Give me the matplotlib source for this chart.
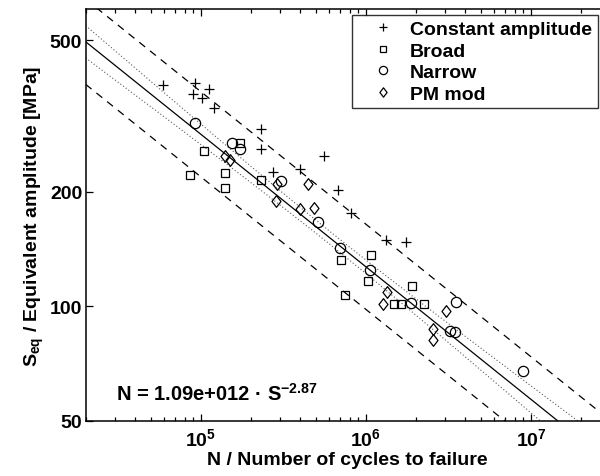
import numpy as np
import matplotlib
matplotlib.use('Agg')
import matplotlib.pyplot as plt
from matplotlib.path import Path
from matplotlib.ticker import FixedLocator, FixedFormatter, NullLocator, LogLocator

plt.rcParams['font.family'] = ['Liberation Sans', 'DejaVu Sans']
plt.rcParams['font.weight'] = 'bold'
plt.rcParams['axes.labelweight'] = 'bold'
plt.rcParams['mathtext.default'] = 'regular'

# ---------------- data (cycles to failure, equivalent amplitude MPa) ----------------
ca_N = [5.89e4, 9.23e4, 1.116e5, 8.98e4, 1.018e5, 1.205e5, 2.32e5, 2.313e5, 2.73e5,
        3.97e5, 5.58e5, 6.81e5, 8.12e5, 1.316e6, 1.743e6]
ca_S = [383, 385.5, 372.9, 362.2, 353.1, 331.4, 292.7, 259.3, 225.3,
        229.0, 247.7, 201.6, 176.1, 149.4, 147.7]

broad_N = [1.728e5, 1.037e5, 8.61e4, 1.40e5, 1.406e5, 2.303e5, 7.10e5, 1.077e6, 1.030e6,
           1.90e6, 7.46e5, 1.469e6, 1.629e6, 2.252e6]
broad_S = [268.0, 256.4, 220.8, 224.4, 204.1, 215.2, 132.1, 136.6, 116.7,
           113.2, 107.2, 101.3, 101.4, 101.4]

narrow_N = [9.17e4, 1.551e5, 1.735e5, 3.07e5, 5.10e5, 6.98e5, 1.062e6, 1.877e6,
            3.51e6, 3.25e6, 3.47e6, 8.89e6]
narrow_S = [303.5, 268.0, 258.5, 214.1, 166.8, 142.3, 124.4, 101.7,
            102.5, 86.3, 85.4, 67.5]

pm_N = [1.406e5, 1.494e5, 2.875e5, 2.835e5, 4.46e5, 3.97e5, 4.84e5, 1.339e6,
        1.276e6, 3.045e6, 2.544e6, 2.544e6]
pm_S = [248.5, 241.8, 210.1, 189.7, 210.1, 180.4, 181.3, 109.3,
        101.5, 96.9, 87.2, 81.4]

series_labels = ['Constant amplitude', 'Broad', 'Narrow', 'PM mod']

# fitted curve N = A * S^-m and bands (half-widths in log10 S)
fit_A = 1.09e12
fit_m = 2.87
pred_half = 0.112
conf_c0 = 0.017
conf_c1 = 0.026
conf_center = 5.8

x_range = (2e4, 3e7)
y_range = (50, 605)
y_ticks = [50, 100, 200, 500]
y_ticklabels = ['50', '100', '200', '500']

# ---------------- figure ----------------
fig = plt.figure(figsize=(6.0, 4.77), dpi=100)
ax = fig.add_axes([0.1428, 0.1159, 0.8733, 0.8631])
ax.set_xscale('log')
ax.set_yscale('log')

logN = np.linspace(np.log10(x_range[0]), np.log10(x_range[1]), 300)
logS = (np.log10(fit_A) - logN) / fit_m
Ngrid = 10 ** logN
conf = np.sqrt(conf_c0 ** 2 + (conf_c1 * (logN - conf_center)) ** 2)

ax.plot(Ngrid, 10 ** logS, color='black', lw=0.9)
for sgn in (1, -1):
    ax.plot(Ngrid, 10 ** (logS + sgn * pred_half), color='black', lw=0.9, dashes=(6, 5))
    ax.plot(Ngrid, 10 ** (logS + sgn * conf), color='0.35', lw=0.8, linestyle=(0, (1, 2)))

diamond = Path([(0, 1), (0.77, 0), (0, -1), (-0.77, 0), (0, 1)],
               [Path.MOVETO, Path.LINETO, Path.LINETO, Path.LINETO, Path.CLOSEPOLY])

kw = dict(linestyle='none', color='black', mfc='none', mec='black', mew=0.9)
h1, = ax.plot(ca_N, ca_S, marker='+', ms=7.5, label=series_labels[0], **kw)
h2, = ax.plot(broad_N, broad_S, marker='s', ms=5.8, label=series_labels[1], **kw)
h3, = ax.plot(narrow_N, narrow_S, marker='o', ms=7.4, label=series_labels[2], **kw)
h4, = ax.plot(pm_N, pm_S, marker=diamond, ms=8.4, label=series_labels[3], **kw)

ax.set_xlim(*x_range)
ax.set_ylim(*y_range)

ax.yaxis.set_major_locator(FixedLocator(y_ticks))
ax.yaxis.set_major_formatter(FixedFormatter(y_ticklabels))
ax.yaxis.set_minor_locator(NullLocator())
ax.xaxis.set_major_locator(LogLocator(base=10))
ax.xaxis.set_minor_locator(LogLocator(base=10, subs=np.arange(2, 10)))

ax.tick_params(which='both', direction='in', top=True, right=False, labelsize=14, width=0.9)
ax.tick_params(which='major', length=5)
ax.tick_params(which='minor', length=3)
ax.tick_params(axis='x', which='major', pad=5)
ax.tick_params(axis='y', which='major', pad=2.5)
for sp in ax.spines.values():
    sp.set_linewidth(1.1)
ax.spines['right'].set_visible(False)

ax.set_xlabel('N / Number of cycles to failure', fontsize=14, fontweight='bold', labelpad=1)
ax.set_ylabel('S$_{eq}$ / Equivalent amplitude [MPa]', fontsize=14, fontweight='bold', labelpad=3)

fig.text(116 / 600, 1 - 401 / 477, 'N = 1.09e+012 · S$^{-2.87}$', fontsize=14.5,
         fontweight='bold', va='baseline', ha='left')

leg = ax.legend(handles=[h1, h2, h3, h4], loc='upper left',
                bbox_to_anchor=(351.7 / 600, 1 - 15.7 / 477), bbox_transform=fig.transFigure,
                fontsize=14, frameon=True, fancybox=False, borderaxespad=0, numpoints=1,
                handlelength=2.6, handletextpad=0.1, labelspacing=0.2, borderpad=0.3,
                markerscale=0.8)
for t in leg.get_texts():
    t.set_fontweight('bold')
leg.get_frame().set_edgecolor('black')
leg.get_frame().set_linewidth(1.0)

fig.savefig('out.png', dpi=100)
